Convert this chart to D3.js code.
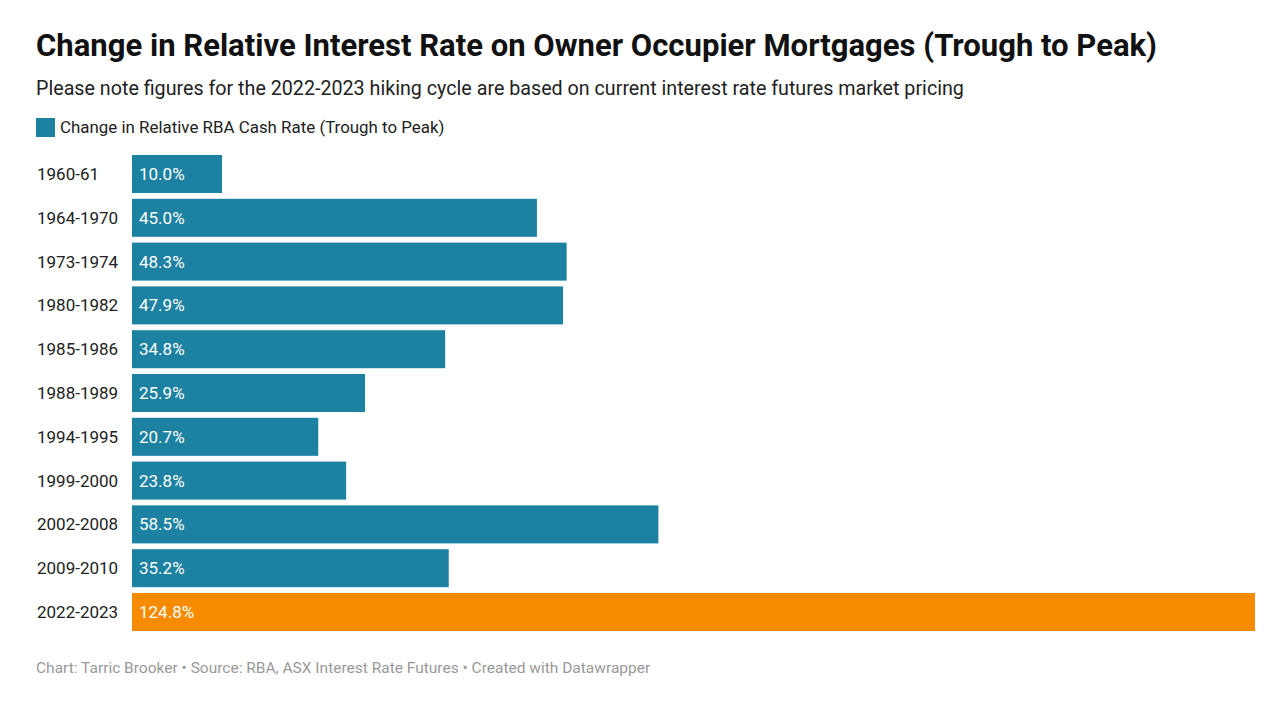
<!DOCTYPE html>
<html><head><meta charset="utf-8">
<script src="https://cdn.jsdelivr.net/npm/d3@7"></script>
<style>body{margin:0;background:#fff;font-family:Roboto,"Noto Sans",sans-serif;}</style>
</head><body>
<svg id="c" width="1279" height="720"></svg>
<script>
const categories = ["1960-61","1964-1970","1973-1974","1980-1982","1985-1986","1988-1989","1994-1995","1999-2000","2002-2008","2009-2010","2022-2023"];
const values = [10.0,45.0,48.3,47.9,34.8,25.9,20.7,23.8,58.5,35.2,124.8];
const highlight = ["2022-2023"];
const title = "Change in Relative Interest Rate on Owner Occupier Mortgages (Trough to Peak)";
const subtitle = "Please note figures for the 2022-2023 hiking cycle are based on current interest rate futures market pricing";
const legendLabel = "Change in Relative RBA Cash Rate (Trough to Peak)";
const footer = "Chart: Tarric Brooker \u2022 Source: RBA, ASX Interest Rate Futures \u2022 Created with Datawrapper";

const svg = d3.select("#c");
const blue = "#1d81a2", orange = "#f68b00";

svg.append("text").attr("x",36).attr("y",56).attr("font-size",31).attr("font-weight",700).attr("fill","#111").text(title)
  .attr("textLength",1121).attr("lengthAdjust","spacingAndGlyphs");
svg.append("text").attr("x",36).attr("y",95).attr("font-size",19.7).attr("fill","#222").text(subtitle);
svg.append("rect").attr("x",36).attr("y",118).attr("width",19).attr("height",19).attr("fill",blue);
svg.append("text").attr("x",60).attr("y",133).attr("font-size",16.9).attr("fill","#222").text(legendLabel);

const x = d3.scaleLinear().domain([0,124.8]).range([132,1255]);
const y = d3.scaleBand().domain(categories).range([155,631]).paddingInner(0.132).paddingOuter(0);

const g = svg.append("g");
const rows = g.selectAll("g.row").data(categories).join("g").attr("class","row");
rows.append("rect").attr("x",x(0)).attr("y",d=>y(d)).attr("height",y.bandwidth())
  .attr("width",(d,i)=>x(values[i])-x(0)).attr("fill",d=>highlight.includes(d)?orange:blue);
rows.append("text").attr("x",37).attr("y",d=>y(d)+y.bandwidth()/2).attr("dy","0.35em")
  .attr("font-size",17).attr("fill","#222").text(d=>d);
rows.append("text").attr("x",x(0)+7).attr("y",d=>y(d)+y.bandwidth()/2).attr("dy","0.35em")
  .attr("font-size",17).attr("fill","#fff").text((d,i)=>values[i].toFixed(1)+"%");

svg.append("text").attr("x",36).attr("y",673).attr("font-size",15.5).attr("fill","#999").text(footer);
</script>
</body></html>
